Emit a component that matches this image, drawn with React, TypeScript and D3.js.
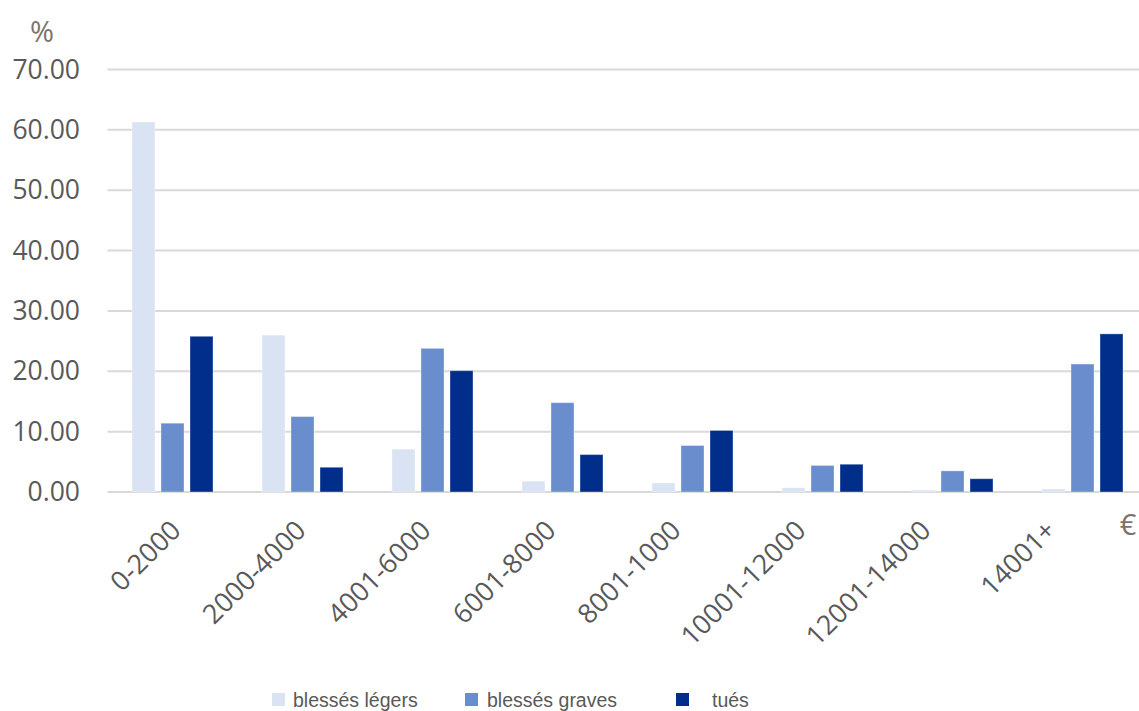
import React from "react";
import * as d3 from "d3";

const categories = ["0-2000", "2000-4000", "4001-6000", "6001-8000", "8001-1000", "10001-12000", "12001-14000", "14001+"];
const seriesNames = ["blessés légers", "blessés graves", "tués"];
const blessesLegers = [61.3, 26.0, 7.1, 1.8, 1.5, 0.7, 0.3, 0.5];
const blessesGraves = [11.4, 12.5, 23.8, 14.8, 7.7, 4.4, 3.5, 21.2];
const tues = [25.8, 4.1, 20.1, 6.2, 10.2, 4.6, 2.2, 26.2];
const yTicks = [0, 10, 20, 30, 40, 50, 60, 70];
const colors = ["#dae3f3", "#6a8dcd", "#002e8a"];

const W = 1139;
const H = 711;

export default function App() {
  const seriesValues = [blessesLegers, blessesGraves, tues];
  const plotLeft = 107.5;
  const plotRight = 1147.5;
  const x0 = d3.scaleBand<string>().domain(categories).range([plotLeft, plotRight]).paddingInner(49 / 130).paddingOuter(49 / 260);
  const x1 = d3.scaleBand<string>().domain(seriesNames).range([0, x0.bandwidth()]).paddingInner(6 / 29).paddingOuter(0);
  const y = d3.scaleLinear().domain([0, 70]).range([492, 69.5]);
  const first = categories[0];
  const last = categories[categories.length - 1];
  const xl = d3.scalePoint<string>().domain(categories)
    .range([x0(first)! + x0.bandwidth() / 2 + 10, x0(last)! + x0.bandwidth() / 2 - 25]);

  const legendX = [272, 465, 676];
  const legendTextX = [293, 487, 712];
  const fontAxis = "'Open Sans', 'Liberation Sans', sans-serif";

  return (
    <svg width={W} height={H} style={{ position: "absolute", left: 0, top: 0, display: "block", background: "#fff" }}>
      {yTicks.map((t) => (
        <g key={t}>
          <line x1={plotLeft} x2={W} y1={y(t)} y2={y(t)} stroke="#d9d9d9" strokeWidth={2} />
          <text x={80} y={y(t) + 9} textAnchor="end" fontFamily={fontAxis} fontSize={26.5} fill="#595959">
            {t.toFixed(2)}
          </text>
        </g>
      ))}
      <text x={42} y={42} textAnchor="middle" fontFamily={fontAxis} fontSize={29} fill="#7b746e">%</text>
      {categories.map((c, i) => (
        <g key={c} transform={`translate(${x0(c)},0)`}>
          {seriesNames.map((s, j) => {
            const v = seriesValues[j][i];
            return (
              <rect
                key={s}
                x={x1(s)}
                y={y(v)}
                width={x1.bandwidth()}
                height={y(0) - y(v)}
                fill={colors[j]}
                stroke="rgba(255,255,255,0.35)"
                strokeWidth={1}
              />
            );
          })}
        </g>
      ))}
      {categories.map((c) => (
        <text
          key={c}
          transform={`translate(${xl(c)},532) rotate(-45)`}
          textAnchor="end"
          fontFamily={fontAxis}
          fontSize={27}
          fill="#595959"
        >
          {c}
        </text>
      ))}
      <text x={1128} y={535} textAnchor="middle" fontFamily={fontAxis} fontSize={29} fill="#7b746e">€</text>
      {seriesNames.map((s, j) => (
        <g key={s}>
          <rect x={legendX[j]} y={693} width={13} height={13} fill={colors[j]} />
          <text x={legendTextX[j]} y={707} fontFamily="'Liberation Sans', Arial, sans-serif" fontSize={19.5} fill="#595959">
            {s}
          </text>
        </g>
      ))}
    </svg>
  );
}
